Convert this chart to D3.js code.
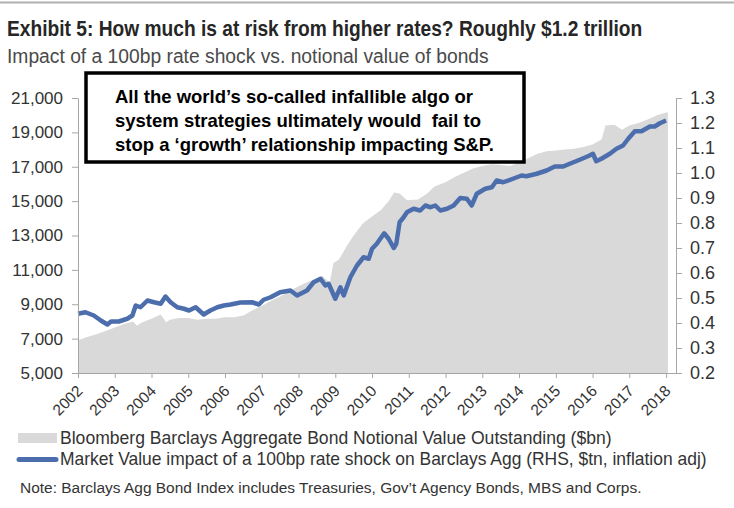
<!DOCTYPE html>
<html>
<head>
<meta charset="utf-8">
<script src="https://cdn.jsdelivr.net/npm/d3@7"></script>
<style>
  html, body { margin: 0; padding: 0; background: #fff; }
  svg { display: block; font-family: "Liberation Sans", Arial, sans-serif; }
</style>
</head>
<body>
<svg id="chart" width="734" height="508"></svg>
<script>
// Notional value outstanding ($bn, left axis)
const notionalDates = [2002.0, 2002.25, 2002.5, 2002.75, 2003.0, 2003.25, 2003.5, 2003.6, 2003.75, 2004.0,
  2004.25, 2004.4, 2004.5, 2004.75, 2005.0, 2005.25, 2005.5, 2005.75, 2006.0, 2006.25,
  2006.5, 2006.75, 2007.0, 2007.25, 2007.5, 2007.75, 2008.0, 2008.25, 2008.5, 2008.65,
  2008.85, 2008.95, 2009.1, 2009.3, 2009.5, 2009.75, 2010.0, 2010.25, 2010.45, 2010.6,
  2010.75, 2010.95, 2011.25, 2011.5, 2011.7, 2012.0, 2012.25, 2012.5, 2012.75, 2013.0,
  2013.25, 2013.5, 2013.75, 2014.0, 2014.25, 2014.5, 2014.75, 2015.0, 2015.25, 2015.5,
  2015.75, 2016.0, 2016.25, 2016.35, 2016.6, 2016.8, 2017.0, 2017.25, 2017.5, 2017.75,
  2018.0, 2018.05];
const notionalBn = [6900, 7100, 7250, 7450, 7650, 7850, 8000, 7750, 7950, 8150,
  8400, 7950, 8100, 8200, 8200, 8100, 8150, 8150, 8250, 8250,
  8350, 8650, 8900, 9200, 9450, 9750, 10050, 10300, 10500, 10650,
  10250, 11400, 11600, 12350, 13000, 13700, 14100, 14500, 15000, 15500,
  15450, 15050, 15100, 15450, 15850, 16100, 16400, 16650, 16900, 17050,
  17150, 17100, 17050, 17250, 17500, 17750, 17900, 17950, 18000, 18050,
  18150, 18300, 18600, 19400, 19450, 19150, 19400, 19550, 19750, 20000,
  20150, 20150];

// Market value impact of a 100bp shock ($tn, right axis)
const shockDates = [2002.0, 2002.2, 2002.43, 2002.62, 2002.8, 2002.9, 2003.11, 2003.34, 2003.48, 2003.57,
  2003.7, 2003.89, 2004.07, 2004.25, 2004.38, 2004.52, 2004.7, 2004.88, 2005.02, 2005.2,
  2005.42, 2005.6, 2005.79, 2005.97, 2006.15, 2006.42, 2006.74, 2006.92, 2007.05, 2007.24,
  2007.5, 2007.78, 2007.96, 2008.23, 2008.41, 2008.6, 2008.73, 2008.82, 2009.0, 2009.14,
  2009.23, 2009.41, 2009.59, 2009.77, 2009.91, 2010.0, 2010.13, 2010.33, 2010.45, 2010.59,
  2010.66, 2010.75, 2010.86, 2010.95, 2011.13, 2011.31, 2011.45, 2011.59, 2011.72, 2011.86,
  2012.04, 2012.22, 2012.4, 2012.58, 2012.71, 2012.85, 2013.08, 2013.26, 2013.39, 2013.57,
  2013.89, 2014.07, 2014.2, 2014.48, 2014.75, 2014.97, 2015.2, 2015.38, 2015.65, 2015.92,
  2016.01, 2016.1, 2016.24, 2016.47, 2016.65, 2016.83, 2016.97, 2017.15, 2017.33, 2017.56,
  2017.69, 2017.83, 2018.0];
const shockTn = [0.437, 0.443, 0.43, 0.41, 0.394, 0.406, 0.406, 0.417, 0.43, 0.47,
  0.463, 0.49, 0.483, 0.477, 0.506, 0.483, 0.463, 0.457, 0.45, 0.463,
  0.434, 0.45, 0.463, 0.47, 0.474, 0.482, 0.483, 0.474, 0.493, 0.503,
  0.523, 0.53, 0.51, 0.53, 0.563, 0.577, 0.55, 0.557, 0.497, 0.543,
  0.51, 0.583, 0.63, 0.663, 0.657, 0.697, 0.717, 0.759, 0.737, 0.70,
  0.717, 0.803, 0.823, 0.843, 0.857, 0.85, 0.87, 0.863, 0.87, 0.85,
  0.857, 0.87, 0.90, 0.897, 0.87, 0.917, 0.937, 0.943, 0.97, 0.963,
  0.98, 0.99, 0.987, 0.997, 1.01, 1.026, 1.026, 1.037, 1.053, 1.07,
  1.077, 1.047, 1.057, 1.077, 1.097, 1.11, 1.137, 1.167, 1.167, 1.186,
  1.186, 1.199, 1.21];

const yearTicks = [2002, 2003, 2004, 2005, 2006, 2007, 2008, 2009, 2010, 2011, 2012, 2013, 2014, 2015, 2016, 2017, 2018];
const leftTicks = [5000, 7000, 9000, 11000, 13000, 15000, 17000, 19000, 21000];
const rightTicks = [0.2, 0.3, 0.4, 0.5, 0.6, 0.7, 0.8, 0.9, 1.0, 1.1, 1.2, 1.3];

const titleText = "Exhibit 5: How much is at risk from higher rates? Roughly $1.2 trillion";
const subtitleText = "Impact of a 100bp rate shock vs. notional value of bonds";
const boxLines = ["All the world\u2019s so-called infallible algo or",
  "system strategies ultimately would  fail to",
  "stop a \u2018growth\u2019 relationship impacting S&P."];
const legendLabels = ["Bloomberg Barclays Aggregate Bond Notional Value Outstanding ($bn)",
  "Market Value impact of a 100bp rate shock on Barclays Agg (RHS, $tn, inflation adj)"];
const noteText = "Note: Barclays Agg Bond Index includes Treasuries, Gov\u2019t Agency Bonds, MBS and Corps.";

const GRAY = "#d9d9d9", BLUE = "#4d6ead", AXIS = "#a6a6a6", TXT = "#333333";
const NARROW = "'Liberation Sans Narrow', 'Arial Narrow', 'Liberation Sans', sans-serif";

const svg = d3.select("#chart");

// ajuste un texte horizontalement à une largeur donnée
function fitWidth(sel, x0, width) {
  const k = width / sel.node().getComputedTextLength();
  sel.attr("x", x0 / k).attr("transform", `scale(${k},1)`);
}

// bandeau du haut
svg.append("line").attr("x1", 0).attr("x2", 734).attr("y1", 2.5).attr("y2", 2.5)
  .attr("stroke", "#b0b0b0").attr("stroke-width", 2);

const title = svg.append("text").attr("y", 36)
  .attr("font-family", NARROW).attr("font-weight", "bold").attr("font-size", 22)
  .attr("fill", "#262626").text(titleText);
fitWidth(title, 7, 636);
const subtitle = svg.append("text").attr("y", 63)
  .attr("font-family", NARROW).attr("font-size", 21).attr("fill", "#4a4a4a").text(subtitleText);
fitWidth(subtitle, 7, 482);

// échelles
const x = d3.scaleLinear().domain([2002, 2018.27]).range([78, 676]);
const yL = d3.scaleLinear().domain([5000, 21000]).range([373, 98]);
const yR = d3.scaleLinear().domain([0.2, 1.3]).range([373, 98]);

const notional = notionalDates.map((d, i) => ({ date: d, v: notionalBn[i] }));
const shock = shockDates.map((d, i) => ({ date: d, v: shockTn[i] }));

const area = d3.area().x(d => x(d.date)).y0(yL(5000)).y1(d => yL(d.v));
const line = d3.line().x(d => x(d.date)).y(d => yR(d.v));

svg.append("path").datum(notional).attr("d", area).attr("fill", GRAY);
svg.append("path").datum(shock).attr("d", line).attr("fill", "none")
  .attr("stroke", BLUE).attr("stroke-width", 4.5).attr("stroke-linejoin", "round");

// axes
function styleAxis(g) {
  g.select(".domain").attr("stroke", AXIS);
  g.selectAll(".tick line").attr("stroke", AXIS);
  g.selectAll(".tick text").attr("fill", TXT).attr("font-size", 17)
    .attr("font-family", "'Liberation Sans', Arial, sans-serif");
}

const gL = svg.append("g").attr("transform", `translate(${x.range()[0]},0)`)
  .call(d3.axisLeft(yL).tickValues(leftTicks).tickFormat(d3.format(",")).tickSize(6).tickPadding(9).tickSizeOuter(0));
styleAxis(gL);

const gR = svg.append("g").attr("transform", `translate(${x.range()[1]},0)`)
  .call(d3.axisRight(yR).tickValues(rightTicks).tickFormat(d3.format(".1f")).tickSize(6).tickPadding(8).tickSizeOuter(0));
styleAxis(gR);
gR.selectAll(".tick text").attr("font-size", 18);

const gX = svg.append("g").attr("transform", `translate(0,${yL.range()[0]})`)
  .call(d3.axisBottom(x).tickValues(yearTicks).tickFormat(d3.format("d")).tickSize(5).tickSizeOuter(0));
styleAxis(gX);
gX.selectAll(".tick text").attr("font-size", 15.5).attr("y", 0).attr("dy", 0)
  .attr("transform", "translate(5,19) rotate(-45)").style("text-anchor", "end");

// encadré
svg.append("rect").attr("x", 86).attr("y", 73).attr("width", 438).attr("height", 89)
  .attr("fill", "#fff").attr("stroke", "#000").attr("stroke-width", 3.5);
svg.append("g").selectAll("text").data(boxLines).join("text")
  .attr("x", 115).attr("y", (d, i) => 103 + i * 24)
  .attr("font-weight", "bold").attr("font-size", 18.5).attr("fill", "#000")
  .style("white-space", "pre").text(d => d);

// légende
svg.append("rect").attr("x", 18).attr("y", 433).attr("width", 39).attr("height", 10).attr("fill", GRAY);
svg.append("line").attr("x1", 19).attr("x2", 56).attr("y1", 459.5).attr("y2", 459.5)
  .attr("stroke", BLUE).attr("stroke-width", 5).attr("stroke-linecap", "round");
const legendWidths = [552, 647];
svg.append("g").selectAll("text").data(legendLabels).join("text")
  .attr("y", (d, i) => 444 + i * 21.5)
  .attr("font-size", 17.5).attr("fill", TXT).text(d => d)
  .each(function (d, i) { fitWidth(d3.select(this), 60, legendWidths[i]); });

const note = svg.append("text").attr("y", 493).attr("font-size", 14.5).attr("fill", TXT).text(noteText);
fitWidth(note, 20, 622);
</script>
</body>
</html>
